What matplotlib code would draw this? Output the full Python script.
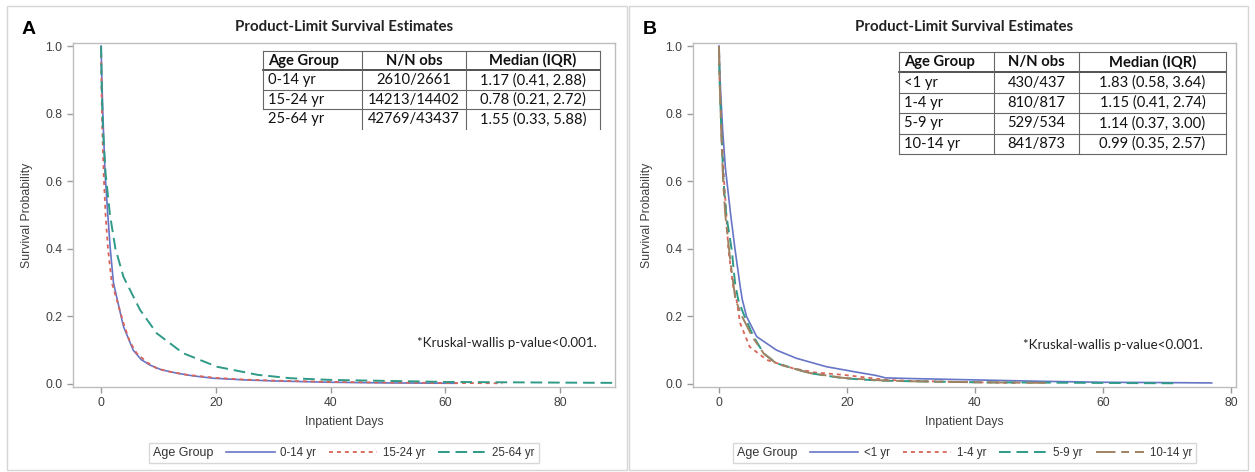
import matplotlib
matplotlib.use('Agg')
import matplotlib.pyplot as plt
from matplotlib.patches import Rectangle

# ---- data (days, survival probability) ----
# Panel A
a_labels = ['0-14 yr', '15-24 yr', '25-64 yr']
a_t_0_14 = [0, 0.1, 0.25, 0.41, 0.7, 1.17, 1.6, 2.15, 2.88, 3.9, 5.6, 7.0, 8.5, 10.5, 13.2, 16, 19.5, 25, 30, 40, 50, 62]
a_s_0_14 = [1.0, 0.92, 0.83, 0.75, 0.62, 0.50, 0.40, 0.30, 0.245, 0.17, 0.10, 0.072, 0.056, 0.042, 0.032, 0.024, 0.017, 0.012, 0.009, 0.005, 0.003, 0.002]
a_t_15_24 = [0, 0.08, 0.21, 0.45, 0.78, 1.2, 1.86, 2.72, 3.9, 5.0, 6.2, 8.0, 9.7, 12, 15, 20, 25, 30, 40, 50, 60, 70]
a_s_15_24 = [1.0, 0.86, 0.75, 0.62, 0.50, 0.40, 0.30, 0.25, 0.18, 0.125, 0.091, 0.064, 0.046, 0.036, 0.027, 0.018, 0.013, 0.010, 0.006, 0.004, 0.003, 0.002]
a_t_25_64 = [0, 0.1, 0.33, 0.8, 1.55, 2.5, 3.9, 5.88, 6.8, 9.7, 14.3, 20.2, 27.3, 33, 40, 50, 60, 70, 80, 92]
a_s_25_64 = [1.0, 0.88, 0.75, 0.62, 0.50, 0.40, 0.317, 0.25, 0.219, 0.15, 0.091, 0.051, 0.027, 0.017, 0.012, 0.009, 0.006, 0.005, 0.004, 0.003]

a_table = [['Age Group', 'N/N obs', 'Median (IQR)'],
           ['0-14 yr', '2610/2661', '1.17 (0.41, 2.88)'],
           ['15-24 yr', '14213/14402', '0.78 (0.21, 2.72)'],
           ['25-64 yr', '42769/43437', '1.55 (0.33, 5.88)']]

# Panel B
b_labels = ['<1 yr', '1-4 yr', '5-9 yr', '10-14 yr']
b_t_lt1 = [0, 0.1, 0.3, 0.58, 1.0, 1.83, 2.5, 3.3, 3.64, 4.3, 5.9, 9.0, 12.1, 16.8, 21.5, 24.6, 26, 30, 40, 50, 60, 70, 77]
b_s_lt1 = [1.0, 0.93, 0.85, 0.75, 0.64, 0.50, 0.40, 0.29, 0.25, 0.20, 0.14, 0.10, 0.076, 0.051, 0.035, 0.025, 0.018, 0.016, 0.012, 0.008, 0.005, 0.004, 0.003]
b_t_1_4 = [0, 0.1, 0.41, 0.8, 1.15, 1.46, 2.2, 2.74, 3.3, 4.8, 7.5, 11.6, 15, 19.4, 26.2, 30, 40, 47]
b_s_1_4 = [1.0, 0.9, 0.75, 0.6, 0.50, 0.40, 0.29, 0.25, 0.18, 0.11, 0.071, 0.046, 0.034, 0.027, 0.012, 0.009, 0.005, 0.003]
b_t_5_9 = [0, 0.1, 0.37, 0.7, 1.14, 2.0, 2.5, 3.0, 3.8, 5.4, 7.0, 9.0, 14.2, 19.4, 25, 30, 40, 50, 60, 71]
b_s_5_9 = [1.0, 0.9, 0.75, 0.6, 0.50, 0.396, 0.30, 0.25, 0.209, 0.14, 0.09, 0.061, 0.032, 0.017, 0.010, 0.008, 0.005, 0.004, 0.003, 0.002]
b_t_10_14 = [0, 0.1, 0.35, 0.65, 0.99, 1.8, 2.57, 3.6, 5.2, 7.0, 9.0, 14, 19.4, 25, 30, 40, 52]
b_s_10_14 = [1.0, 0.9, 0.75, 0.6, 0.50, 0.36, 0.25, 0.20, 0.14, 0.09, 0.06, 0.033, 0.018, 0.011, 0.008, 0.005, 0.003]

b_table = [['Age Group', 'N/N obs', 'Median (IQR)'],
           ['<1 yr', '430/437', '1.83 (0.58, 3.64)'],
           ['1-4 yr', '810/817', '1.15 (0.41, 2.74)'],
           ['5-9 yr', '529/534', '1.14 (0.37, 3.00)'],
           ['10-14 yr', '841/873', '0.99 (0.35, 2.57)']]

# ---- styles ----
blue, red, teal, brown = '#6675c6', '#d8645a', '#2f9a88', '#a08262'
st_solid = '-'
st_dot = (0, (2.2, 2.2))
st_dash = (0, (6, 3))
st_longshort = (0, (10, 3, 4, 3))

W, H = 1255, 472
fig = plt.figure(figsize=(W / 100, H / 100), dpi=100)

# panel frames
for x0, x1 in [(7, 627), (629, 1248)]:
    fig.patches.append(Rectangle((x0 / W, 1 - 470 / H), (x1 - x0) / W, 464 / H,
                                 transform=fig.transFigure, fill=False,
                                 ec='#d6d6d6', lw=1))

axA = fig.add_axes([73 / W, 1 - 387 / H, (615 - 73) / W, 344 / H])
axB = fig.add_axes([693 / W, 1 - 387 / H, (1236 - 693) / W, 344 / H])

sans = 'Liberation Sans'
cal = 'Lato'


def style_axes(ax, xlim):
    ax.set_xlim(*xlim)
    ax.set_ylim(-0.009, 1.009)
    ax.set_xticks([0, 20, 40, 60, 80])
    ax.set_yticks([0, 0.2, 0.4, 0.6, 0.8, 1.0])
    ax.set_yticklabels(['0.0', '0.2', '0.4', '0.6', '0.8', '1.0'])
    for s in ax.spines.values():
        s.set_color('#bdbdbd')
        s.set_linewidth(1)
    ax.tick_params(colors='#9a9a9a', labelcolor='#404040', labelsize=8.7, length=4, width=1)
    for lab in ax.get_xticklabels() + ax.get_yticklabels():
        lab.set_family(sans)
    ax.set_xlabel('Inpatient Days', family=sans, fontsize=8.8, color='#404040', labelpad=5)
    ax.set_ylabel('Survival Probability', family=sans, fontsize=8.8, color='#404040', labelpad=9)
    ax.set_title('Product-Limit Survival Estimates', family=cal, fontweight='bold',
                 fontsize=10.8, color='#222222', pad=9)


def draw_table(ax, rows, x0, cols, x1, top, rh, open_last=False):
    n = len(rows)
    bottom = top - n * rh
    edges = [x0] + cols + [x1]
    lc = '#666666'
    # horizontal lines
    for i in range(n + 1):
        if open_last and i == n:
            continue
        y = top - i * rh
        ax.plot([x0, x1], [y, y], transform=ax.transAxes, color='#333333' if i == 1 else lc,
                lw=1.2 if i == 1 else 0.8, clip_on=False)
    # vertical lines
    for j, x in enumerate(edges):
        yb = bottom
        if open_last and j == 0:
            yb = bottom + rh
        ax.plot([x, x], [top, yb], transform=ax.transAxes, color=lc, lw=0.8, clip_on=False)
    for i, row in enumerate(rows):
        yc = top - (i + 0.5) * rh
        wt = 'bold' if i == 0 else 'normal'
        ax.text(x0 + 0.009, yc, row[0], transform=ax.transAxes, ha='left', va='center',
                family=cal, fontsize=10.6, fontweight=wt, color='#111111')
        for j in (1, 2):
            xc = (edges[j] + edges[j + 1]) / 2
            ax.text(xc, yc, row[j], transform=ax.transAxes, ha='center', va='center',
                    family=cal, fontsize=10.6, fontweight=wt, color='#111111')


def add_legend(ax, lines, labels):
    leg = ax.legend(lines, labels, title='Age Group', ncol=len(lines), loc='center',
                    bbox_to_anchor=(0.5, -0.192), frameon=True, fancybox=False,
                    prop={'family': sans, 'size': 8.3}, handlelength=4.2, handletextpad=0.5,
                    columnspacing=1.1, borderpad=0.35, borderaxespad=0)
    leg.get_title().set_family(sans)
    leg.get_title().set_fontsize(9)
    leg.get_title().set_color('#333333')
    for t in leg.get_texts():
        t.set_color('#333333')
    fr = leg.get_frame()
    fr.set_edgecolor('#cfcfcf')
    fr.set_linewidth(1)
    # title to the left of the entries
    leg._legend_box._children = [leg._legend_handle_box]
    leg._legend_handle_box._children.insert(0, leg._legend_title_box)
    return leg


# ---- Panel A ----
l1, = axA.plot(a_t_0_14, a_s_0_14, color=blue, ls=st_solid, lw=1.2)
l2, = axA.plot(a_t_15_24, a_s_15_24, color=red, ls=st_dot, lw=1.3)
l3, = axA.plot(a_t_25_64, a_s_25_64, color=teal, ls=st_dash, lw=1.4)
style_axes(axA, (-4.9, 89.6))
draw_table(axA, a_table, 0.3506, [0.533, 0.725], 0.972, 0.977, 0.0567, open_last=True)
axA.text(0.967, 0.128, '*Kruskal-wallis p-value<0.001.', transform=axA.transAxes,
         ha='right', va='center', family=cal, fontsize=9.6, color='#222222')
add_legend(axA, [l1, l2, l3], a_labels)

# ---- Panel B ----
m1, = axB.plot(b_t_lt1, b_s_lt1, color=blue, ls=st_solid, lw=1.2)
m2, = axB.plot(b_t_1_4, b_s_1_4, color=red, ls=st_dot, lw=1.3)
m3, = axB.plot(b_t_5_9, b_s_5_9, color=teal, ls=st_dash, lw=1.4)
m4, = axB.plot(b_t_10_14, b_s_10_14, color=brown, ls=st_longshort, lw=1.4)
style_axes(axB, (-4.06, 80.8))
draw_table(axB, b_table, (899 - 693) / 543, [(994 - 693) / 543, (1079 - 693) / 543],
           (1226 - 693) / 543, 0.974, 0.0593)
axB.text(0.939, 0.122, '*Kruskal-wallis p-value<0.001.', transform=axB.transAxes,
         ha='right', va='center', family=cal, fontsize=9.6, color='#222222')
add_legend(axB, [m1, m2, m3, m4], b_labels)

# panel letters
fig.text(22 / W, 1 - 30 / H, 'A', family=sans, fontweight='bold', fontsize=14, va='center')
fig.text(643 / W, 1 - 30 / H, 'B', family=sans, fontweight='bold', fontsize=14, va='center')

fig.savefig('out.png', dpi=100)
